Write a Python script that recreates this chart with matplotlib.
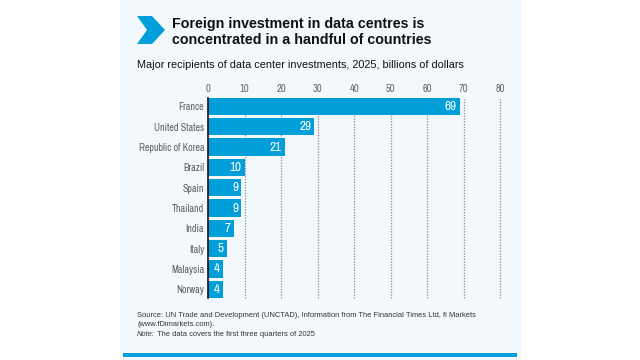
import matplotlib.pyplot as plt
from matplotlib import font_manager
from matplotlib.patches import Polygon, Rectangle
from matplotlib.text import Annotation

countries = ["France", "United States", "Republic of Korea", "Brazil", "Spain",
             "Thailand", "India", "Italy", "Malaysia", "Norway"]
values = [69, 29, 21, 10, 9, 9, 7, 5, 4, 4]
ticks = [0, 10, 20, 30, 40, 50, 60, 70, 80]

BLUE = "#009FDA"
BG = "#F3F8FC"
SANS = ["Liberation Sans", "DejaVu Sans"]

# narrow face for the chart labels, if one is installed
names = sorted({f.name for f in font_manager.fontManager.ttflist})
narrow_names = [n for n in names if "Narrow" in n or "Condensed" in n]
if narrow_names:
    NARROW, nscale = [narrow_names[0], "DejaVu Sans"], 1.0
else:
    NARROW, nscale = SANS, 0.76

W, H = 640, 360
fig = plt.figure(figsize=(6.4, 3.6), dpi=100)
fig.patch.set_facecolor("white")

def fx(px):
    return px / W

def fy(py):
    return 1 - py / H

# panel background and bottom rule
fig.patches.append(Rectangle((fx(120), 0), fx(401), 1, transform=fig.transFigure,
                             facecolor=BG, edgecolor="none", zorder=-2))
fig.patches.append(Rectangle((fx(123), fy(357)), fx(394), 4.3 / H, transform=fig.transFigure,
                             facecolor=BLUE, edgecolor="none", zorder=-1))

# chevron icon
chev = [(137, 16), (152, 16), (165, 30), (152, 44), (137, 44), (147, 30)]
fig.patches.append(Polygon([(fx(x), fy(y)) for x, y in chev], closed=True,
                           transform=fig.transFigure, facecolor=BLUE,
                           edgecolor="none", zorder=-1))

fig.text(fx(172), fy(24), "Foreign investment in data centres is", family=SANS,
         fontweight="bold", fontsize=10.3, va="center", ha="left", color="#111111")
fig.text(fx(172), fy(40.5), "concentrated in a handful of countries", family=SANS,
         fontweight="bold", fontsize=10.3, va="center", ha="left", color="#111111")
fig.text(fx(137), fy(65), "Major recipients of data center investments, 2025, billions of dollars",
         family=SANS, fontsize=7.85, va="center", ha="left", color="#111111")

src_kw = dict(family=SANS, fontsize=5.45, va="center", ha="left", color="#333333")
fig.text(fx(137), fy(315.5),
         "Source: UN Trade and Development (UNCTAD), Information from The Financial Times Ltd, fi Markets",
         **src_kw)
fig.text(fx(137), fy(325), "(www.fDimarkets.com).", **src_kw)
note = fig.text(fx(137), fy(334.5), "Note:", style="italic", **src_kw)
fig.add_artist(Annotation("The data covers the first three quarters of 2025", xy=(1, 0.5),
                          xycoords=note, xytext=(1.5, 0), textcoords="offset points",
                          **src_kw))

# chart
left, right, top, bottom = 208.3, 500, 97.7, 298
ax = fig.add_axes([fx(left), fy(bottom), fx(right - left), (bottom - top) / H])
ax.set_facecolor("none")
ypos = list(range(len(countries)))
bh = 0.86
ax.barh(ypos, values, height=bh, color=BLUE, zorder=2)
ax.set_xlim(0, 80)
ax.set_ylim(len(countries) - 1 + bh / 2, -bh / 2)

for x in ticks[1:]:
    ax.axvline(x, color="#8a8a8a", linestyle=(0, (1, 1.2)), linewidth=0.9,
               zorder=1, clip_on=False)

for y, v in zip(ypos, values):
    ax.text(v - 0.8, y, str(v), ha="right", va="center", color="white",
            family=NARROW, fontsize=9.5 * nscale, zorder=3)

ax.set_xticks(ticks)
ax.set_yticks(ypos)
ax.set_yticklabels(countries, family=NARROW, fontsize=7.2 * nscale, color="#606060")
ax.set_xticklabels([str(t) for t in ticks], family=NARROW, fontsize=7.6 * nscale, color="#666666")
ax.xaxis.tick_top()
ax.tick_params(axis="both", length=0, pad=3)
for s in ["top", "right", "bottom"]:
    ax.spines[s].set_visible(False)
ax.spines["left"].set_color("#111111")
ax.spines["left"].set_linewidth(1.2)
ax.spines["left"].set_zorder(4)

fig.savefig("out.png", dpi=100)
